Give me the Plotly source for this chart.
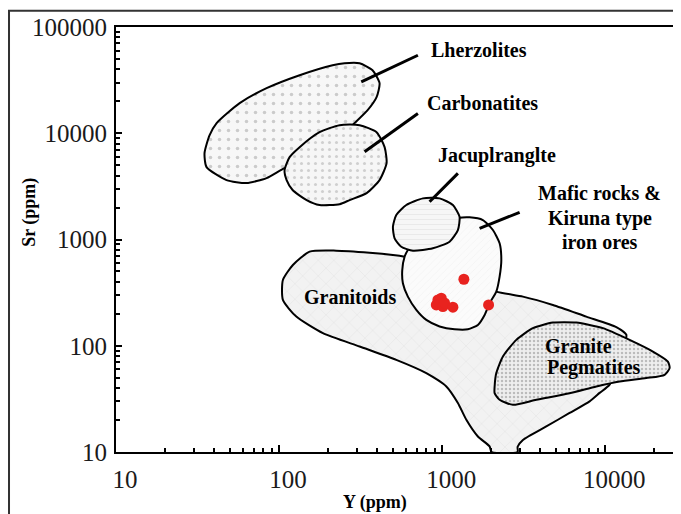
import math
import plotly.graph_objects as go

# ---------------- data (Y ppm, Sr ppm) ----------------
lherzolites_y = [34.9, 37.5, 41.4, 57.3, 83.8, 133.6, 212.8, 252, 311.6, 374, 413, 396, 349, 290, 235, 177, 133.6, 108, 83.8, 63.2, 47.6, 35.9]
lherzolites_sr = [6500, 9600, 12450, 19190, 26550, 35160, 43650, 45600, 45600, 39170, 29580, 21840, 16480, 12450, 9190, 6940, 5235, 4700, 3785, 3400, 3625, 4800]

carbonatites_y = [108, 116, 133.6, 177, 235, 311.6, 396, 443.6, 456, 413, 344, 270.5, 235, 177, 147.5, 121, 111.2]
carbonatites_sr = [4500, 5960, 7400, 10240, 11920, 11920, 10240, 7400, 5235, 3625, 2735, 2350, 2150, 2110, 2350, 2920, 3625]

granitoids_y = [153.8, 224.2, 358.7, 498.7, 588, 964, 1472, 2146, 3125, 4772, 7646, 11680, 13450, 13130, 10630, 9230, 8013, 6040, 4348, 3125, 2900, 2900, 2009, 1952, 1655, 1406, 1248, 1060, 799, 523, 311.6, 185.6, 127.5, 105.5, 105.5, 121.5]
granitoids_sr = [768, 785, 751, 715, 689, 576, 416, 323, 290, 242, 188, 150, 127, 102, 43, 36, 30, 23.3, 17.4, 13, 11.2, 10, 10, 11.3, 14, 20.1, 28.9, 41.4, 55.3, 73.7, 98.3, 131.3, 188, 270, 416, 576]

mafic_y = [726.6, 1034, 1243, 1472, 1776, 2046, 2249, 2304, 2249, 2146, 1952, 1820, 1655, 1438, 1191, 964, 799, 694, 616, 574, 569, 588, 616]
mafic_sr = [1102, 1461, 1592, 1617, 1525, 1228, 921, 642, 447, 323, 251, 195, 157, 143, 143, 152, 175, 217.5, 290, 388, 517, 689, 796]

jacupirangite_y = [498.7, 523, 602.5, 761.6, 964, 1163, 1278, 1248, 1110, 877, 661.4, 561, 510.6]
jacupirangite_sr = [1319, 1699, 2110, 2439, 2439, 2110, 1637, 1228, 953, 826.5, 784.6, 855.6, 1026]

pegmatites_y = [2096, 2146, 2356, 2847, 3598, 4772, 6640, 9667, 14090, 19580, 24200, 24790, 23100, 17840, 12240, 8806, 6040, 3775, 2713, 2249, 2096]
pegmatites_sr = [41.4, 55.3, 79.1, 113.6, 146.4, 165.2, 165.2, 146.4, 113.6, 88.2, 71, 61.6, 53.3, 49.6, 46.1, 41.4, 35.8, 31, 27.8, 31, 35.8]

samples_y = [1358, 941, 987, 920, 1010, 1034, 1163, 1925]
samples_sr = [422.6, 270, 280, 242.3, 233.6, 253, 230.6, 242.3]

# leader lines: (Y start, Y end), (Sr start, Sr end)
leaders = [
    ([319, 709.6], [30400, 54200]),
    ([334.3, 709.6], [6686, 15350]),
    ([837, 1248], [2266, 4190]),
    ([1696, 2983], [1274, 1801]),
]

# region labels: text, Y, Sr
labels = [
    ("Lherzolites", 1672, 60400),
    ("Carbonatites", 1769, 19400),
    ("Jacuplranglte", 2171, 6227),
    ("Mafic rocks &", 9230, 2735),
    ("Kiruna type", 9230, 1592),
    ("iron ores", 9230, 947),
    ("Granitoids", 272.4, 290),
    ("Granite", 6860, 99.8),
    ("Pegmatites", 8480, 62),
]

x_tickvals = [10, 100, 1000, 10000]
x_ticktext = ["10", "100", "1000", "10000"]
y_tickvals = [10, 100, 1000, 10000, 100000]
y_ticktext = ["10", "100", "1000", "10000", "100000"]
minor_vals = [m * 10 ** d for d in range(1, 5) for m in range(2, 10)]

# ---------------- figure ----------------
fig = go.Figure()

def region(xs, ys, bg, shape, fg, size, solidity):
    fig.add_trace(go.Scatter(
        x=list(xs) + [xs[0]], y=list(ys) + [ys[0]],
        mode="lines", fill="toself", fillcolor=bg,
        fillpattern=dict(shape=shape, bgcolor=bg, fgcolor=fg, size=size, solidity=solidity),
        line=dict(color="black", width=2, shape="spline", smoothing=0.6),
        hoverinfo="skip", showlegend=False,
    ))

region(lherzolites_y, lherzolites_sr, "#f7f7f7", ".", "#a0a0a0", 9, 0.12)
region(carbonatites_y, carbonatites_sr, "#f6f6f6", ".", "#a8a8a8", 7, 0.15)
region(granitoids_y, granitoids_sr, "#f2f2f2", "x", "#c4c4c4", 11, 0.06)
region(mafic_y, mafic_sr, "#fbfbfb", "/", "#e2e2e2", 5, 0.1)
region(jacupirangite_y, jacupirangite_sr, "#f6f6f6", "-", "#d4d4d4", 5, 0.15)
region(pegmatites_y, pegmatites_sr, "#eeeeee", ".", "#8a8a8a", 4, 0.3)

for lx, ly in leaders:
    fig.add_trace(go.Scatter(x=lx, y=ly, mode="lines",
                             line=dict(color="black", width=3),
                             hoverinfo="skip", showlegend=False))

fig.add_trace(go.Scatter(x=samples_y, y=samples_sr, mode="markers",
                         marker=dict(color="#e8231f", size=11, line=dict(width=0)),
                         hoverinfo="skip", showlegend=False))

for text, lx, ly in labels:
    fig.add_annotation(x=math.log10(lx), y=math.log10(ly), xref="x", yref="y",
                       text=text, showarrow=False, xanchor="center", yanchor="middle",
                       font=dict(family="Liberation Serif", size=20, color="black", weight="bold"))

# axis titles
fig.add_annotation(x=-0.1525, y=0.565, xref="paper", yref="paper", text="Sr (ppm)",
                   textangle=-90, showarrow=False, xanchor="center", yanchor="middle",
                   font=dict(family="Liberation Serif", size=18, color="black", weight="bold"))
fig.add_annotation(x=0.459, y=-0.119, xref="paper", yref="paper", text="Y (ppm)",
                   showarrow=False, xanchor="center", yanchor="middle",
                   font=dict(family="Liberation Serif", size=18, color="black", weight="bold"))

tickfont = dict(family="Liberation Serif", size=25, color="#1a1a1a")

fig.update_xaxes(type="log", range=[1, 1 + 564 / 163.1],
                 showline=True, linecolor="black", linewidth=2, mirror=True,
                 ticks="inside", ticklen=7, tickwidth=1.5, tickcolor="black",
                 tickvals=x_tickvals, ticktext=x_ticktext, tickfont=tickfont,
                 ticklabelshift=9, ticklabelstandoff=4,
                 minor=dict(ticks="inside", ticklen=4, tickcolor="black", tickwidth=1.5,
                            tickvals=minor_vals, showgrid=False),
                 showgrid=False, zeroline=False)
fig.update_yaxes(type="log", range=[1, 5],
                 showline=True, linecolor="black", linewidth=2,
                 ticks="inside", ticklen=6, tickwidth=1.5, tickcolor="black",
                 tickvals=y_tickvals, ticktext=y_ticktext, tickfont=tickfont,
                 ticklabelstandoff=2,
                 minor=dict(ticks="inside", ticklen=4, tickcolor="black", tickwidth=1.5,
                            tickvals=minor_vals, showgrid=False),
                 showgrid=False, zeroline=False)

# right border of plot (thin gray) and outer frame
fig.add_shape(type="line", xref="paper", yref="paper", x0=1, x1=1, y0=0, y1=1,
              line=dict(color="#888888", width=1))
fig.add_shape(type="rect", xref="paper", yref="paper",
              x0=-0.1897, x1=1.05, y0=-0.2, y1=1.038,
              line=dict(color="#333333", width=2), fillcolor="rgba(0,0,0,0)", layer="above")

# page body has an 8px margin, so the figure is sized to fit the window
fig.update_layout(width=673, height=506,
                  margin=dict(l=108, r=1, t=19, b=62),
                  paper_bgcolor="white", plot_bgcolor="white",
                  hovermode=False, showlegend=False)

fig.write_html("out.html")
